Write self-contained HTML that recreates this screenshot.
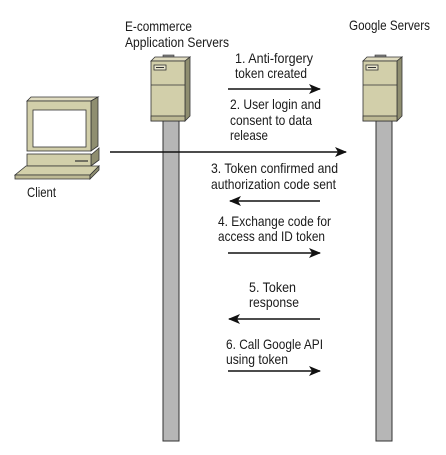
<!DOCTYPE html>
<html><head><style>
body{margin:0;background:#fff;}
svg{display:block;}
text{font-family:"Liberation Sans",sans-serif;font-size:14px;fill:#1a1a1a;}
</style></head><body>
<svg width="446" height="455" viewBox="0 0 446 455">
<defs>
<marker id="a" markerWidth="12" markerHeight="10" refX="11" refY="5" orient="auto" markerUnits="userSpaceOnUse">
<path d="M0,0 L12,5 L0,10 L3,5 Z" fill="#111"/></marker>
</defs>
<rect x="163" y="120" width="16" height="321" fill="#b6b6b6" stroke="#333" stroke-width="1"/>
<rect x="376" y="120" width="16" height="321" fill="#b6b6b6" stroke="#333" stroke-width="1"/>
<g id="srv">
<rect x="163" y="55" width="11" height="3" fill="#888" stroke="#333" stroke-width="0.6"/>
<polygon points="151,61 155,57 190,57 185,61" fill="#e0dcc0" stroke="#333" stroke-width="0.8"/>
<polygon points="185,61 190,57 190,116 185,121" fill="#8f8e70" stroke="#333" stroke-width="0.8"/>
<rect x="151" y="61" width="34" height="60" fill="#d2cfaa" stroke="#333" stroke-width="0.8"/>
<line x1="151" y1="85" x2="185" y2="85" stroke="#333" stroke-width="0.8"/>
<rect x="151" y="116" width="34" height="5" fill="#bdb994" stroke="#333" stroke-width="0.8"/>
<rect x="154" y="65" width="12" height="5" fill="#e8e5cc" stroke="#333" stroke-width="0.8"/>
<line x1="156" y1="67.5" x2="164" y2="67.5" stroke="#333" stroke-width="1"/>
</g>
<use href="#srv" x="212" y="0"/>
<polygon points="27,101 31,97 98,97 91,101" fill="#e0dcc0" stroke="#333" stroke-width="0.8"/>
<polygon points="91,101 98,97 98,146 91,151" fill="#8f8e70" stroke="#333" stroke-width="0.8"/>
<rect x="27" y="101" width="64" height="50" fill="#d2cfaa" stroke="#333" stroke-width="0.8"/>
<rect x="33" y="110" width="53" height="37" fill="#fff" stroke="#333" stroke-width="0.8"/>
<polygon points="91,155 99,148 99,160 91,166" fill="#8f8e70" stroke="#333" stroke-width="0.8"/>
<rect x="27" y="154" width="64" height="12" fill="#d2cfaa" stroke="#333" stroke-width="0.8"/>
<line x1="75" y1="161" x2="88" y2="161" stroke="#333" stroke-width="1.2"/>
<polygon points="26,166 99,166 90,175 15,175" fill="#d2cfaa" stroke="#333" stroke-width="0.8"/>
<polygon points="15,175 90,175 90,179 15,179" fill="#bdb994" stroke="#333" stroke-width="0.8"/>
<polygon points="90,175 99,166 99,170 90,179" fill="#8f8e70" stroke="#333" stroke-width="0.8"/>
<g stroke="#111" stroke-width="1.6" fill="none">
<line x1="228" y1="89" x2="320" y2="89" marker-end="url(#a)"/>
<line x1="110" y1="152" x2="346" y2="152" marker-end="url(#a)"/>
<line x1="320" y1="201" x2="230" y2="201" marker-end="url(#a)"/>
<line x1="228" y1="253" x2="320" y2="253" marker-end="url(#a)"/>
<line x1="320" y1="319" x2="229" y2="319" marker-end="url(#a)"/>
<line x1="228" y1="371" x2="320" y2="371" marker-end="url(#a)"/>
</g>
<g lengthAdjust="spacingAndGlyphs">
<text x="125" y="31" textLength="67" lengthAdjust="spacingAndGlyphs">E-commerce</text>
<text x="125" y="47" textLength="104" lengthAdjust="spacingAndGlyphs">Application Servers</text>
<text x="349" y="30" textLength="81" lengthAdjust="spacingAndGlyphs">Google Servers</text>
<text x="27" y="197" textLength="29" lengthAdjust="spacingAndGlyphs">Client</text>
<text x="235" y="63" textLength="78" lengthAdjust="spacingAndGlyphs">1. Anti-forgery</text>
<text x="235" y="78" textLength="72" lengthAdjust="spacingAndGlyphs">token created</text>
<text x="230" y="109" textLength="91" lengthAdjust="spacingAndGlyphs">2. User login and</text>
<text x="230" y="125" textLength="82" lengthAdjust="spacingAndGlyphs">consent to data</text>
<text x="230" y="140" textLength="38" lengthAdjust="spacingAndGlyphs">release</text>
<text x="211" y="173" textLength="127" lengthAdjust="spacingAndGlyphs">3. Token confirmed and</text>
<text x="211" y="189" textLength="125" lengthAdjust="spacingAndGlyphs">authorization code sent</text>
<text x="218" y="226" textLength="113" lengthAdjust="spacingAndGlyphs">4. Exchange code for</text>
<text x="218" y="241" textLength="107" lengthAdjust="spacingAndGlyphs">access and ID token</text>
<text x="249" y="292" textLength="47" lengthAdjust="spacingAndGlyphs">5. Token</text>
<text x="249" y="307" textLength="50" lengthAdjust="spacingAndGlyphs">response</text>
<text x="226" y="349" textLength="97" lengthAdjust="spacingAndGlyphs">6. Call Google API</text>
<text x="226" y="364" textLength="62" lengthAdjust="spacingAndGlyphs">using token</text>
</g>
</svg>
</body></html>
